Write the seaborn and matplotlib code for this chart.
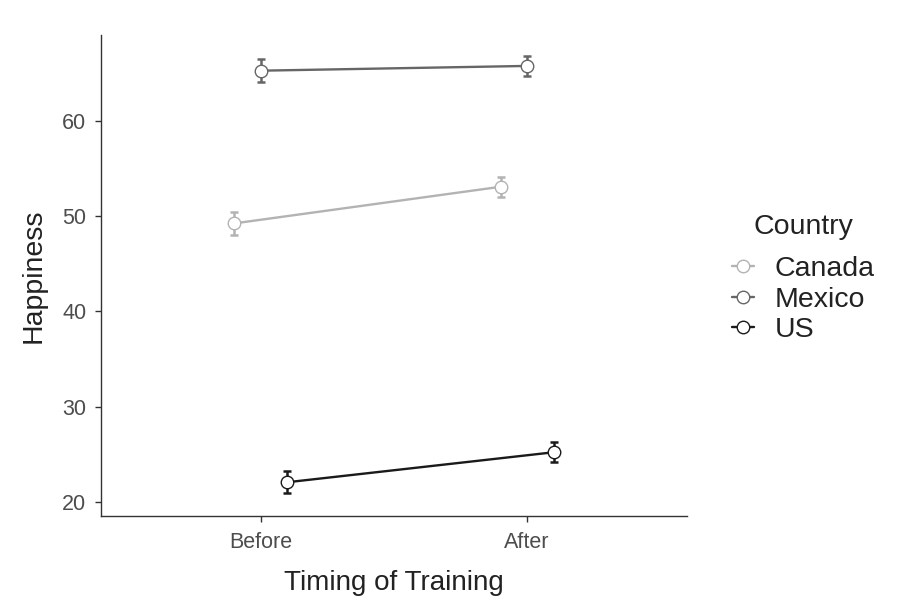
import numpy as np
import pandas as pd
import matplotlib
matplotlib.use("Agg")
import matplotlib.pyplot as plt
import seaborn as sns
from matplotlib.lines import Line2D

# ---- data ----
timing = ["Before", "After"]
countries = ["Canada", "Mexico", "US"]
canada = [49.25, 53.1]
mexico = [65.3, 65.8]
us = [22.05, 25.2]
canada_se = [1.2, 1.05]
mexico_se = [1.2, 1.05]
us_se = [1.15, 1.05]
colors = ["#b3b3b3", "#666666", "#1a1a1a"]

means = {"Canada": canada, "Mexico": mexico, "US": us}
ses = {"Canada": canada_se, "Mexico": mexico_se, "US": us_se}
dodge = {"Canada": -0.1, "Mexico": 0.0, "US": 0.1}

rows = []
for c in countries:
    for i, t in enumerate(timing):
        rows.append({"Country": c, "Timing": t, "pos": i + dodge[c],
                     "Happiness": means[c][i], "SE": ses[c][i]})
df = pd.DataFrame(rows)

sns.set_theme(style="ticks")
plt.rcParams["font.family"] = ["Liberation Sans", "DejaVu Sans"]

fig = plt.figure(figsize=(8.99, 6.10), dpi=100)
ax = fig.add_axes([101 / 899, 1 - 516 / 610, (687 - 101) / 899, (516 - 35) / 610])

sns.lineplot(data=df, x="pos", y="Happiness", hue="Country", hue_order=countries,
             palette=colors, marker="o", markersize=9.0, markerfacecolor="white",
             linewidth=1.7, errorbar=None, legend=False, ax=ax)
for line in ax.lines:
    line.set_markeredgecolor(line.get_color())
    line.set_markeredgewidth(1.0)
    line.set_zorder(3)

for c, col in zip(countries, colors):
    sub = df[df["Country"] == c]
    ax.errorbar(sub["pos"], sub["Happiness"], yerr=sub["SE"], fmt="none",
                ecolor=col, elinewidth=1.8, capsize=3.2, capthick=1.8, zorder=2)

ax.set_xlim(-0.6, 1.6)
ax.set_ylim(18.5, 69.05)
ax.set_xticks([0, 1])
ax.set_xticklabels(timing)
ax.set_yticks([20, 30, 40, 50, 60])
sns.despine(ax=ax)
for s in ["left", "bottom"]:
    ax.spines[s].set_color("#333333")
    ax.spines[s].set_linewidth(1.0)
ax.tick_params(axis="both", colors="#333333", labelcolor="#4d4d4d",
               labelsize=15.5, length=4.5, width=1.0)
ax.tick_params(axis="x", pad=7)
ax.tick_params(axis="y", pad=6)
ax.set_xlabel("Timing of Training", fontsize=20, color="#222222", labelpad=12)
ax.set_ylabel("Happiness", fontsize=20.5, color="#222222", labelpad=11)

handles = [Line2D([0], [0], color=col, lw=1.7, marker="o", markersize=9.0,
                  markerfacecolor="white", markeredgecolor=col, markeredgewidth=1.0)
           for col in colors]
leg = fig.legend(handles, countries, title="Country", loc="upper left",
                 bbox_to_anchor=(718 / 899, 1 - 200 / 610), frameon=False,
                 fontsize=20.5, title_fontsize=20.5, handlelength=0.75,
                 handletextpad=0.75, labelspacing=0.155, borderpad=0)
leg._legend_box.sep = 11.5
for t in leg.get_texts():
    t.set_color("#222222")
leg.get_title().set_color("#222222")

fig.savefig("out.png", dpi=100)
